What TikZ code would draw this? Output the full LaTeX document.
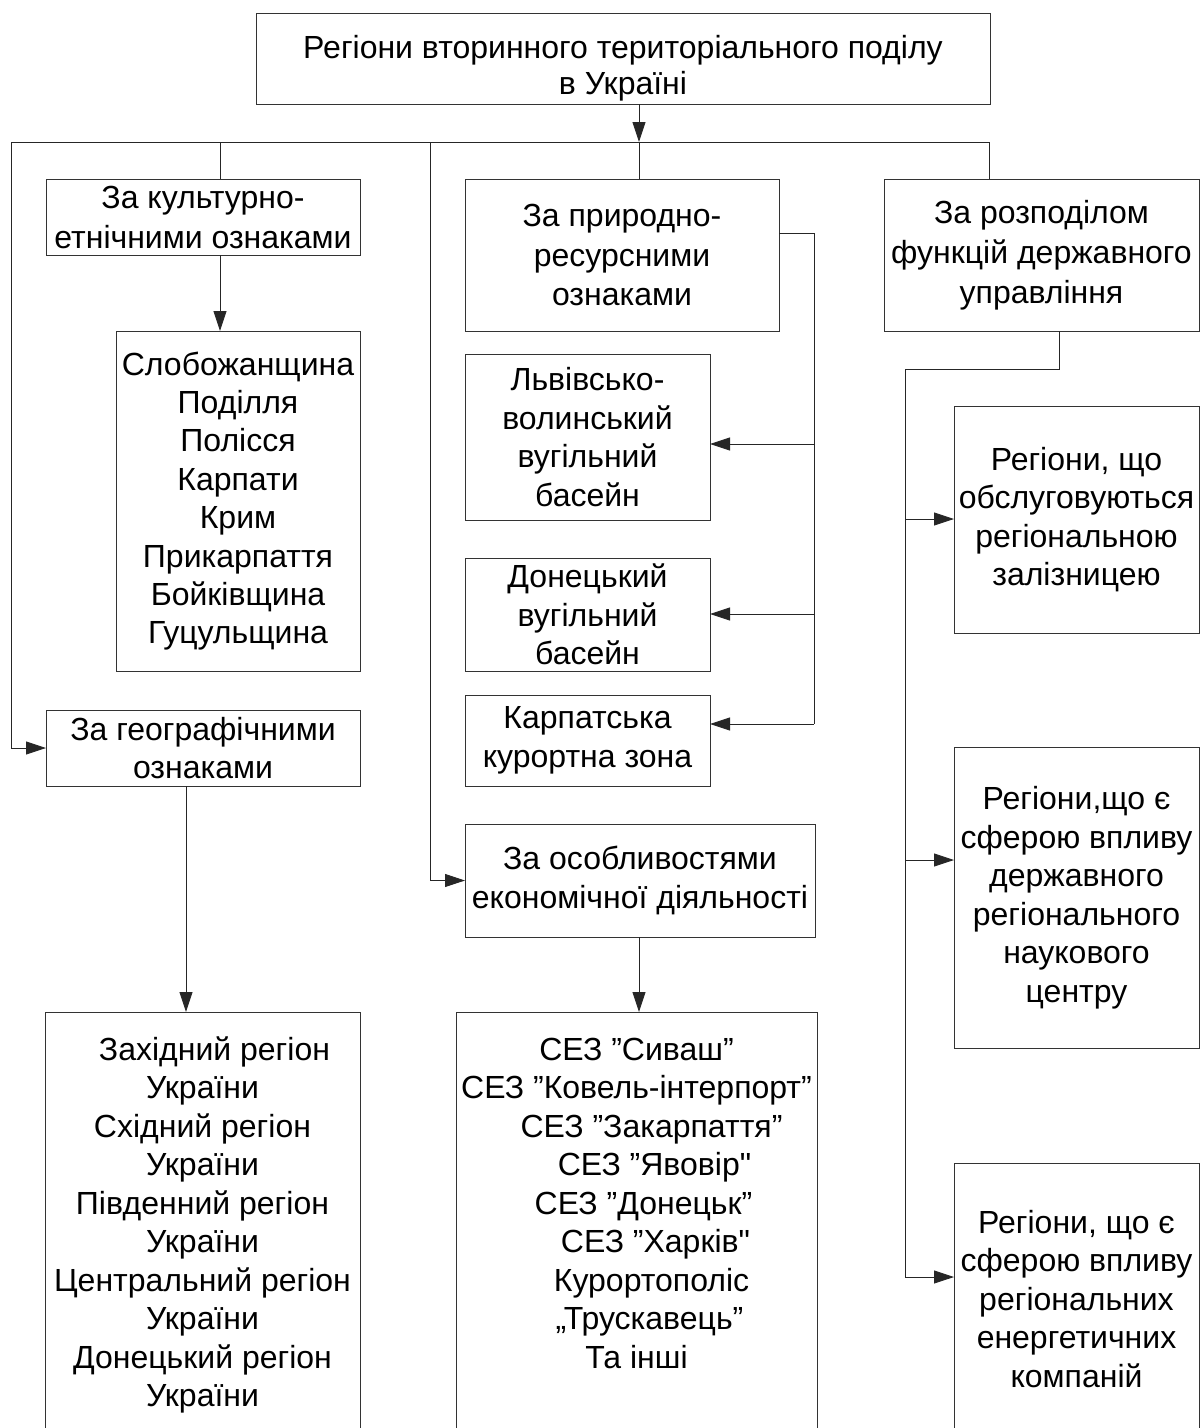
\documentclass[tikz,border=0pt]{standalone}
\usepackage{fontspec}
\setmainfont{Liberation Sans}[Ligatures=TeXOff]
\usetikzlibrary{arrows.meta}
\begin{document}
\begin{tikzpicture}[x=1pt,y=-1pt,
  box/.style={draw=black!80, line width=0.9pt, inner sep=0pt, outer sep=0pt, align=center, font=\fontsize{32}{38.5}\selectfont},
  conn/.style={draw=black!85, line width=0.9pt},
  arr/.style={conn, -{Triangle[length=20pt,width=13pt]}}]
\useasboundingbox (0,0) rectangle (1203,1428);
\clip (0,0) rectangle (1203,1428);

% boxes
\node[box, minimum width=734pt, minimum height=91pt, font=\fontsize{32}{36}\selectfont] (title) at (623,58.5) {\rule{0pt}{42pt}Регіони вторинного територіального поділу\\в Україні};
\node[box, minimum width=314pt, minimum height=76pt, font=\fontsize{32}{40}\selectfont] (cult) at (203,217) {За культурно-\\етнічними ознаками};
\node[box, minimum width=314pt, minimum height=152pt, font=\fontsize{32}{39.5}\selectfont] (nat) at (622,255) {За природно-\\ресурсними\\ознаками};
\node[box, minimum width=315pt, minimum height=152pt, font=\fontsize{32}{40}\selectfont] (state) at (1041.5,255) {За розподілом\\функцій державного\\управління};
\node[box, minimum width=244pt, minimum height=340pt, font=\fontsize{32}{38.4}\selectfont] (cultlist) at (238,501) {Слобожанщина\\Поділля\\Полісся\\Карпати\\Крим\\Прикарпаття\\Бойківщина\\Гуцульщина};
\node[box, minimum width=245pt, minimum height=166pt] (lviv) at (587.5,437) {Львівсько-\\волинський\\вугільний\\басейн};
\node[box, minimum width=245pt, minimum height=113pt] (don) at (587.5,614.5) {Донецький\\вугільний\\басейн};
\node[box, minimum width=245pt, minimum height=91pt] (karp) at (587.5,740.5) {Карпатська\\курортна зона};
\node[box, minimum width=314pt, minimum height=76pt] (geo) at (203,748) {За географічними\\ознаками};
\node[box, minimum width=350pt, minimum height=113pt] (econ) at (640,880.5) {За особливостями\\економічної діяльності};
\node[box, minimum width=245pt, minimum height=227pt] (rail) at (1076.5,519.5) {Регіони, що\\обслуговуються\\регіональною\\залізницею};
\node[box, minimum width=245pt, minimum height=301pt] (sci) at (1076.5,897.5) {Регіони,що є\\сферою впливу\\державного\\регіонального\\наукового\\центру};
\node[box, anchor=north] (geolist) at (202.5,1012) {\parbox[t][450pt][t]{315pt}{\centering\rule{0pt}{48pt}\hspace*{24pt}Західний регіон\\України\\Східний регіон\\України\\Південний регіон\\України\\Центральний регіон\\України\\Донецький регіон\\України}};
\node[box, anchor=north] (sez) at (636.5,1012) {\parbox[t][450pt][t]{361pt}{\centering\rule{0pt}{48pt}СЕЗ ”Сиваш”\\СЕЗ ”Ковель-інтерпорт”\\\hspace*{30pt}СЕЗ ”Закарпаття”\\\hspace*{36pt}СЕЗ ”Явовір"\\\hspace*{14pt}СЕЗ ”Донецьк”\\\hspace*{38pt}СЕЗ ”Харків"\\\hspace*{30pt}Курортополіс\\\hspace*{26pt}„Трускавець”\\Та інші}};
\node[box, anchor=north] (energy) at (1076.5,1163) {\parbox[t][300pt][t]{245pt}{\centering\rule{0pt}{70pt}Регіони, що є\\сферою впливу\\регіональних\\енергетичних\\компаній}};

% junction coordinates
\coordinate (jl) at (11,142);
\coordinate (jc) at (220,142);
\coordinate (je) at (430,142);
\coordinate (jt) at (639,142);
\coordinate (jr) at (989,142);
\coordinate (gx) at (186,900);
\coordinate (n1) at (814,233);
\coordinate (k1) at (814,444);
\coordinate (k2) at (814,614);
\coordinate (k3) at (814,724);
\coordinate (s1) at (1059,369);
\coordinate (s2) at (905,369);
\coordinate (r1) at (905,519);
\coordinate (r2) at (905,860);
\coordinate (r3) at (905,1277);

% connectors
\draw[arr] (title.south -| jt) -- (jt);
\draw[conn] (jl) -- (jr);
\draw[arr] (jl) |- (geo.west);
\draw[conn] (jc) -- (jc |- cult.north);
\draw[arr] (jc |- cult.south) -- (jc |- cultlist.north);
\draw[arr] (je) |- (econ.west);
\draw[conn] (jt) -- (jt |- nat.north);
\draw[conn] (jr) -- (jr |- state.north);
\draw[conn] (nat.east |- n1) -| (k3);
\draw[arr] (k1) -- (lviv.east |- k1);
\draw[arr] (k2) -- (don.east |- k2);
\draw[arr] (k3) -- (karp.east |- k3);
\draw[arr] (gx |- geo.south) -- (gx |- geolist.north);
\draw[arr] (jt |- econ.south) -- (jt |- sez.north);
\draw[conn] (state.south -| s1) |- (s2) -- (r3);
\draw[arr] (r1) -- (rail.west |- r1);
\draw[arr] (r2) -- (sci.west |- r2);
\draw[arr] (r3) -- (energy.west |- r3);
\end{tikzpicture}
\end{document}
